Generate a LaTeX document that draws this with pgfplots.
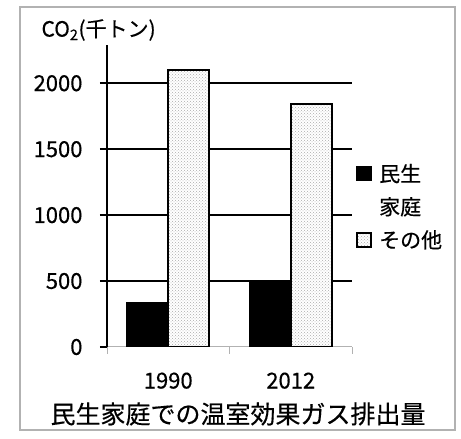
\documentclass[border=0pt]{standalone}
\usepackage{fontspec}
\setmainfont{Noto Sans CJK JP}[UprightFeatures={FakeBold=0.4}]
\usepackage{pgfplots}
\pgfplotsset{compat=1.18}
\usetikzlibrary{patterns}
\begin{document}
\begin{tikzpicture}
\useasboundingbox (0,0) rectangle (461pt,439pt);
\draw[gray!60, line width=1.5pt] (20pt,9pt) rectangle (455pt,432pt);
\begin{axis}[
  at={(107pt,92pt)}, anchor=south west,
  scale only axis, width=245pt, height=302pt,
  xmin=-0.5, xmax=1.5, ymin=0, ymax=2290,
  ybar=0pt, bar width=41pt,
  axis x line*=bottom, axis y line*=left,
  x axis line style={gray!60, line width=1pt},
  y axis line style={black, line width=1.6pt},
  xtick={0,1}, xticklabels={1990,2012},
  major x tick style={draw=none},
  minor xtick={-0.5,0.5,1.5},
  minor x tick style={gray!60, line width=1pt},
  minor tick length=7pt,
  ytick={500,1000,1500,2000},
  extra y ticks={0}, extra y tick style={grid=none},
  major tick length=7pt,
  tick align=outside,
  y tick style={black, line width=1.6pt},
  ymajorgrids,
  major grid style={black, line width=1.6pt},
  /pgf/number format/assume math mode=true,
  /pgf/number format/1000 sep={},
  tick label style={font=\fontsize{22}{26}\selectfont},
  xticklabel style={yshift=-15pt},
  yticklabel style={xshift=-14pt},
  legend style={at={(1.005,0.62)}, anchor=north west, draw=none, fill=none,
    font=\fontsize{21}{25}\selectfont, row sep=10pt,
    cells={anchor=west}},
  legend image code/.code={\draw[#1, line width=1.5pt] (0pt,-7pt) rectangle (14pt,7pt); \path (19pt,0pt);},
]
\addplot[fill=black, draw=black, line width=2pt] coordinates {(0,330) (1,500)};
\addlegendentry{民生}
\addlegendimage{draw opacity=0, fill opacity=0, opacity=0}
\addlegendentry{家庭}
\addplot[fill=white, draw=black, line width=2pt, postaction={pattern=crosshatch dots, pattern color=gray!65}] coordinates {(0,2100) (1,1840)};
\addlegendentry{その他}
\end{axis}
\node[anchor=west, font=\fontsize{21}{25}\selectfont] at (38pt,409pt) {CO\textsubscript{2}(千トン)};
\node[font=\fontsize{25}{30}\selectfont] at (238pt,25pt) {民生家庭での温室効果ガス排出量};
\end{tikzpicture}
\end{document}
